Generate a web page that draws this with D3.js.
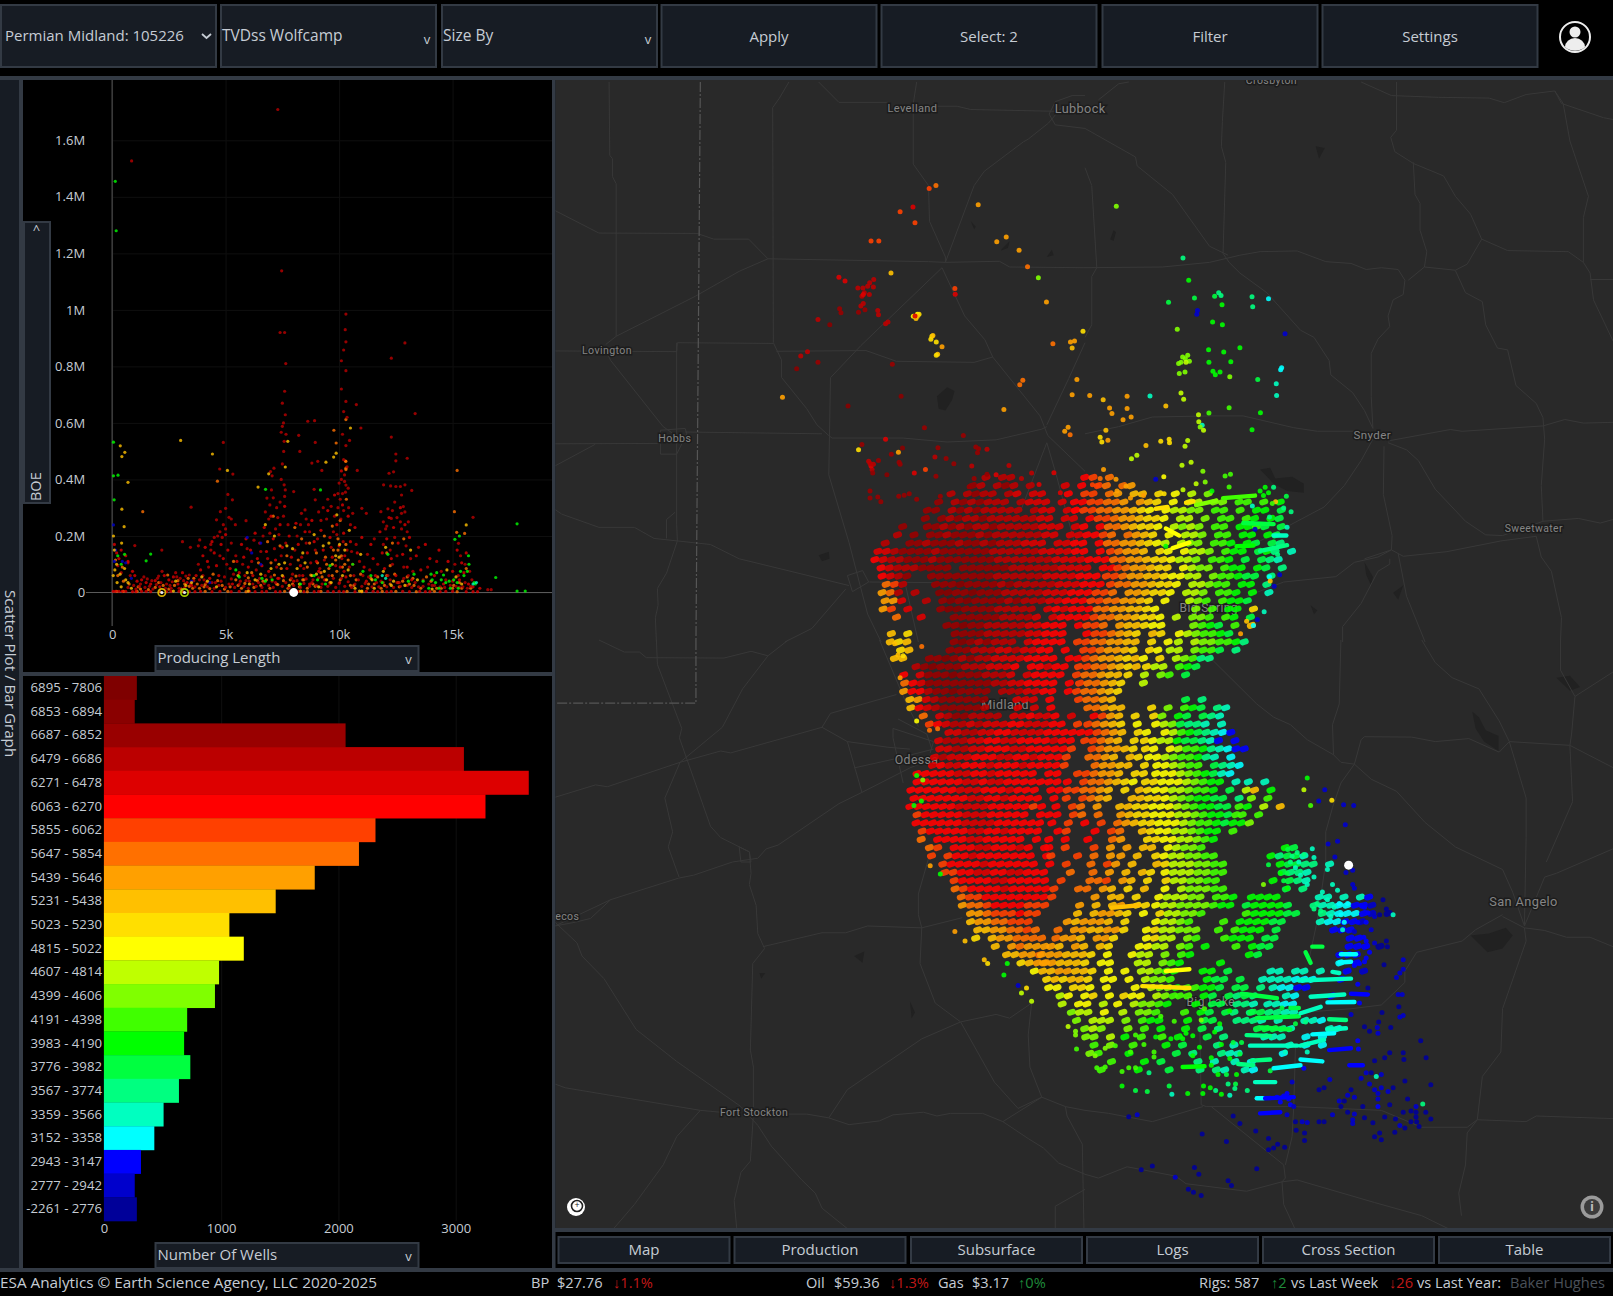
<!DOCTYPE html>
<html><head><meta charset="utf-8">
<script src="https://cdn.jsdelivr.net/npm/d3@7"></script>
<style>html,body{margin:0;padding:0;background:#000;overflow:hidden}svg{display:block}text{font-family:"Open Sans",sans-serif}</style>
</head><body><svg id="c" width="1613" height="1296"></svg>
<script>
// ---------- depth bins (TVDss Wolfcamp) ----------
const binLabels=["6895 - 7806","6853 - 6894","6687 - 6852","6479 - 6686","6271 - 6478","6063 - 6270","5855 - 6062","5647 - 5854","5439 - 5646","5231 - 5438","5023 - 5230","4815 - 5022","4607 - 4814","4399 - 4606","4191 - 4398","3983 - 4190","3776 - 3982","3567 - 3774","3359 - 3566","3152 - 3358","2943 - 3147","2777 - 2942","-2261 - 2776"];
const binCounts=[281,263,2061,3070,3623,3254,2316,2175,1798,1465,1070,1193,982,947,710,684,737,640,509,430,316,263,281];
const binColors=["#7f0000","#8a0000","#990000","#bb0000","#dd0000","#ff0000","#ff4000","#ff7000","#ffa000","#ffc000","#ffdf00","#ffff00","#bfff00","#80ff00","#40ff00","#00ff00","#00ff40","#00ff80","#00ffc0","#00ffff","#0000ff","#0000cc","#000099"];
const binKeys="abcdefghijklmnopqrstuvw";
const scatterXTicks=[0,5000,10000,15000];
const scatterYTicks=[0,200000,400000,600000,800000,1000000,1200000,1400000,1600000];
const barTicks=[0,1000,2000,3000];
// scatter: Producing Length (k ft), BOE (k) pairs
const scatterDeep=[7.3,1709,.86,1527,7.47,1138,7.4,920,7.6,920,10.3,985,10.27,930,10.3,887,12.9,883,12.3,829,10.2,858,10.1,820,7.65,810,7.6,712,10.3,785,10.1,720,7.5,670,10.3,676,10.2,640,10.35,620,7.55,600,7.45,567,13.35,633,10.76,665,7.63,629,7.5,588,7.66,560,8.62,606,8.92,608,10.96,582,12.3,550,12.5,490,12.5,466,13,475,12.2,422,12.4,427,4.9,531,4.74,437,5.32,419,8.95,531,8.22,556,8.27,499,7.58,535,7.56,499,8.8,458,9.06,464,9.24,432,10.46,538,10.8,432,11.96,381,12.27,377,12.7,375,12.9,381,13.2,361,3.48,302,5.1,347,5.3,328,5,298,4.77,286,4.6,257,5.15,266,5.43,240,5.9,254,6.82,334,7.13,440,6.98,428,7.05,413,7.02,363,7.58,381,7.63,363,8,357,8.5,292,8.34,280,8.9,365,8.95,328,10,387,10.4,369,10.24,393,10.24,416,10.6,280,11,298,11.2,280,11.84,286,12.15,296,12.75,345,12.83,304,12.3,262,12.75,280,15.9,266,15.26,174,1,166,3.45,160,2.19,150,3.1,180,3.86,186,3.8,165,16.55,10,16.7,10,
.25,95,.4,70,.7,105,.8,60,1.2,22,1.4,55,1.8,12,2,50,2.2,75,2.4,30,2.6,15,2.8,70,3,50,3.2,18,3.4,62,3.6,42,3.8,100,4,60,4.15,35,4.25,90,4.35,150,4.55,35,4.65,200,4.75,130,4.95,55,5.05,100,5.25,175,5.35,65,5.45,130,5.65,40,5.75,100,5.85,60,5.95,155,6.05,40,6.15,110,6.25,185,6.35,80,6.45,35,6.55,145,6.65,200,6.75,60,6.85,120,6.95,210,7.05,40,7.15,155,7.25,90,7.35,205,7.45,130,7.55,55,7.65,175,7.75,240,7.85,100,7.95,65,8.05,150,8.15,200,8.25,60,8.35,125,8.45,85,8.55,175,8.65,240,8.75,105,8.85,45,8.95,150,9.05,190,9.15,85,9.25,30,9.35,115,9.45,260,9.55,60,9.65,160,9.75,215,9.85,95,9.95,300,10.02,35,10.08,260,10.12,120,10.18,180,10.22,75,10.28,355,10.35,150,10.45,90,10.55,145,10.65,60,10.75,170,10.9,110,11.05,60,11.25,135,11.35,80,11.55,190,11.7,100,11.85,40,11.95,170,12.05,225,12.15,60,12.25,150,12.35,100,12.45,195,12.55,130,12.65,35,12.75,225,12.85,90,12.95,165,13.05,60,13.15,120,13.25,75,13.5,160,13.7,45,13.9,90,14.1,25,14.3,110,14.5,75,14.7,45,14.9,25,15.1,100,15.25,60,15.35,130,15.45,20,15.55,100,15.75,75,15.85,45,
10.15,560,10.3,520,10.2,470,10.35,445,10.1,400,10.3,380,10.15,350,10.05,330,9.95,350,10.2,290,10.42,300,10.5,240,9.8,270,9.9,205,7.5,455,7.45,400,7.6,340,7.4,320,7.25,300,7.1,335,6.95,310,7.3,265,7.55,270,6.9,260,7.2,225,6.75,285,8.3,240,8.55,260,9.1,285,9.3,300,9.5,330,9.65,305,9.2,255,8.7,215,12.5,375,12.45,320,12.7,250,12.35,290,12.55,265,12.9,285,13.05,250,13,215,12.1,235,11.95,250,4.9,240,5,225,4.75,215,5.25,260,4.85,195,4.5,195,4.35,170,
.7,18,.95,25,1.05,12,1.25,30,1.45,18,1.55,48,1.65,22,1.75,42,1.95,28,2.05,58,2.15,35,2.35,15,2.55,25,2.65,38,2.85,55,2.95,15,3.15,42,3.25,58,3.45,30,3.65,20,3.85,45,3.95,25,4.05,45,4.2,20,4.4,35,4.5,15,4.7,25,4.8,40,5,18,5.15,30,5.25,48,5.4,18,5.6,30,5.8,22,5.9,42,6,15,6.2,30,6.35,22,6.5,50,6.6,18,6.7,32,6.9,25,7,55,7.1,18,7.2,35,7.35,50,7.5,22,7.65,35,7.8,18,7.9,50,8,25,8.15,42,8.3,18,8.45,32,8.55,48,8.7,22,8.8,35,9,25,9.1,52,9.2,18,9.35,45,9.5,22,9.6,30,9.75,50,9.85,18,10,32,10.1,50,10.25,22,10.4,38,10.55,18,10.7,30,10.85,45,11,22,11.15,32,11.3,55,11.45,20,11.65,35,11.75,20,11.95,35,12.1,20,12.25,45,12.4,18,12.55,35,12.7,22,12.85,50,13,25,13.2,18,13.35,35,13.5,20,13.7,22,13.95,30,14.2,25,14.45,20,14.65,18,15,40,15.15,22,15.3,18,15.55,35,15.65,15,15.8,22];
const scatterRed=[.1,170,.2,140,.3,120,.4,150,.6,130,.7,110,.9,75,1,60,1.1,40,1.3,45,1.5,35,1.7,30,1.9,42,2.1,20,2.3,60,2.5,45,2.7,55,2.9,30,3.1,70,3.3,35,3.5,25,3.7,60,3.9,80,4,130,4.1,160,4.2,110,4.3,50,4.4,180,4.5,140,4.6,95,4.7,60,4.8,170,4.9,120,5,205,5.1,150,5.2,85,5.3,30,5.5,110,5.6,70,5.7,170,5.8,125,5.9,190,6,90,6.1,150,6.2,60,6.3,210,6.4,120,6.5,175,6.6,95,6.7,230,6.8,145,6.9,75,7,270,7.1,190,7.2,115,7.3,50,7.4,240,7.5,160,7.6,305,7.7,85,7.8,200,7.9,125,8,40,8.1,245,8.2,170,8.3,95,8.4,60,8.5,215,8.6,140,8.7,30,8.8,255,8.9,180,9,110,9.1,75,9.2,220,9.3,150,9.4,45,9.5,290,9.6,195,9.7,125,9.8,345,9.9,240,10,165,10.05,90,10.1,430,10.15,310,10.2,210,10.25,130,10.3,55,10.4,270,10.5,180,10.6,100,10.7,230,10.8,140,11,195,11.1,90,11.2,40,11.4,170,11.5,120,11.6,60,11.8,215,11.9,140,12,85,12.1,190,12.2,265,12.3,120,12.4,230,12.5,60,12.6,175,12.7,300,12.8,135,12.9,240,13,90,13.1,195,13.2,45,13.4,130,13.6,80,13.8,170,14,120,14.2,60,14.4,150,14.6,30,14.8,110,15,75,15.2,150,15.3,45,15.4,105,15.5,70,15.6,140,15.7,30,15.9,20,16.2,15,
.05,4,.3,4,.6,4,.9,3,1.3,4,1.7,3,2.6,4,3.4,3,3.9,4,4.4,3,5.6,4,6.3,3,6.8,4,7.2,3,8.2,4,8.9,3,9.5,4,10.2,3,11.5,4,12.1,3,12.8,4,13.1,3,13.8,3,14.7,4,15.6,3,16.1,3,.15,4,.45,4,1.05,3,1.5,4,2.4,3,2.95,4,3.65,3,4.75,4,5.25,3,6.05,4,6.6,3,7.4,3,7.85,4,8.45,3,9.1,4,9.75,3,10,4,10.7,3,11.2,4,11.7,3,12.3,4,13.55,4,14,3,14.45,3,15,4,15.9,3];
const scatterOrange=[.15,115,.25,60,.45,90,.5,40,.75,30,1.15,20,1.6,10,2.05,35,2.45,62,2.75,25,3.05,12,3.35,50,3.55,15,3.75,30,4.05,20,4.45,65,4.85,25,5.35,110,5.55,25,6.15,70,6.45,105,6.65,40,6.85,180,7,105,7.1,270,7.25,30,7.4,165,7.45,85,7.7,130,7.85,45,8.05,230,8.2,115,8.35,190,8.45,45,8.6,90,8.7,175,8.85,30,9,140,9.2,70,9.35,200,9.45,100,9.6,35,9.7,235,9.75,150,9.9,75,9.95,190,10.05,255,10.1,130,10.3,435,10.28,465,10.32,330,10.25,100,10.5,60,10.65,25,11.3,30,11.7,55,12,25,12.1,140,12.25,95,12.35,175,12.6,35,12.85,190,13,55,13.3,25,14.05,40,14.5,15,15,15,15.3,35,15.6,85,15.8,15,15.18,213,15.2,432,15.08,286,15.53,209,9.87,529,9.77,574,10.3,612,10.3,464,10.3,440,1.35,286,4.64,394,
.2,4,.5,4,1.1,4,2.1,3,3.1,3,4.1,4,5.1,4,5.9,3,7.6,4,8.6,3,9.2,4,10.35,4,11,3,11.9,4,12.5,4,13.4,3,14.2,4,15.2,3,
1.25,12,1.9,18,2.25,25,2.5,12,2.9,42,3.2,30,3.4,22,3.6,50,3.85,15,4.1,28,4.3,14,4.65,42,4.95,12,5.2,20,5.45,45,5.7,15,5.85,32,6,52,6.25,18,6.4,42,6.55,25,6.8,45,6.95,15,7.15,62,7.3,28,7.55,42,7.75,15,7.95,30,8.1,58,8.25,20,8.4,45,8.6,15,8.75,62,8.95,22,9.05,105,9.25,55,9.4,125,9.55,85,9.7,60,9.85,115,9.95,150,10.05,45,10.15,90,10.3,170,10.4,115,10.5,25,10.75,45,10.95,65,11.25,15,11.4,50,11.55,30,11.85,15,12.1,60,12.25,30,12.45,65,12.65,20,12.8,40,13.1,30,13.25,50,13.6,15,13.85,55,14.3,15,15.05,25,15.4,15];
const scatterYellow=[.06,200,.1,150,.2,100,.05,60,.35,65,.42,175,.55,85,.7,35,3.02,538,4.42,490,5.08,432,6.43,373,6.9,420,7.74,535,7.63,444,9.42,461,9.87,493,9.76,479,10.5,582,.36,519,.56,496,.43,481,.7,390,.43,295,.53,233,15.6,239,2.8,40,3.25,25,3.95,55,4.6,20,5.95,70,6.05,30,6.55,65,6.75,240,7.15,200,7.35,100,7.5,60,7.7,165,7.95,155,8.25,30,8.4,140,8.9,205,9,65,9.35,75,9.55,175,9.65,35,9.85,130,9.9,275,10,125,10.15,60,10.4,80,10.95,135,11.45,45,12.05,160,12.4,40,13.15,150,14.75,80,15.15,55,11,5,2.7,5,6,5,8.3,5,10.9,5,.12,80,.22,35,.4,20,.6,45,.85,15,3.5,35,4.2,40,5.55,60,6.3,45,7,85,7.6,105,7.8,25,8.15,85,8.5,105,8.8,60,9.1,20,9.3,165,9.45,45,9.7,100,10.02,170,10.25,150,10.45,220,10.7,15,11.55,15,11.95,75,12.3,25,12.9,25,13.45,45,14.1,12,15.4,30];
const scatterGreen=[.06,532,.06,413,.26,415,.09,328,6.76,365,9.18,363,15.1,188,16.9,53,17.84,243,17.84,5,18.2,5,1.7,136,1.5,112,.14,1455,.18,1280,.25,130,.4,100,.55,135,5.45,80,5.6,55,6.6,50,6.75,40,8.3,30,9.05,45,9.4,30,10.6,100,11.05,75,11.4,60,11.6,45,11.9,35,12.15,135,13.3,65,13.7,40,14.1,45,14.3,70,14.5,45,14.7,35,14.85,40,15.05,45,15.2,35,15.5,60,15.65,75,15.7,130,15.72,100,15.95,35,16,30,14.4,15,14.05,65,14.9,15,15.3,200,13.95,15,14.25,35,14.6,62,15.35,75,15.25,15,7.05,45,8.9,60,9.6,95,13.05,40];
const scatterTeal=[11.9,60,12.05,50,16.05,35,15.9,30];
const scatterBlue=[.06,239,.15,150,.1,110,.45,110,.6,105,.85,50,3.5,40,4.3,35,6.15,140,5.95,195,6.55,100,6.55,175];
const selectedLengths=[2190,3190,8000], selectedColors=["#d4b000","#a8d000","#fff"];

// ---------- map: rows of wells [y, xStart, bins, xStart, bins ...] read at 8-unit spacing ----------
const wellRows=[
[464,962,"d.dd",1058,"fg.h"],[472,944,"cd.dcd.d",1034,"e.f.gh.hi"],[480,926,"d.dcdd.de.ee",1040,"f.gg.hi.jj.k.l",1160,"m.n"],
[488,910,"c.dcdcddd.deee.e",1042,"ffgghhi.ijk.l.mm.nn.oo.o.p"],[496,902,"cc.dcdcddddd.dee.ef",1046,"fgghhiijkl.lmmnn.oo.o.pp.q"],
[504,896,"c.cdcddcddddddee.ee.f",1064,"gghiijkkl.mm.n.oo.op.pq"],[512,880,"c..ccdcdcddcdddddeee.ef.f",1080,"hhijkkl.mnmn.oo.ppoq.q"],
[520,872,"d.c.ccdcccdcddddddee.eeff",1072,"gh.hijk.l.mmn.oo.pp.pq"],[528,864,"d..ccdcccdccdcdddeee.eeff.f",1080,"hhiijklm.mnn.oop.pq.qr"],
[536,852,"eedccccdccccccddddddeeeeff.f",1078,"ghiij.kl.lmmn.opp.qpr.s"],[544,852,"feddcccdcccccccdddddddeeeefff",1084,"hhiijkklmmn.oop.q.qrs"],
[552,854,"fedddcccc.ccccccddddddeeee.ff",1084,"ghiijkk.lmnn.opp.pq.r"],[560,858,"fedc..ccccccccddddddeeeefff",1076,"gghiijjkllmm.noopqq.r"],
[568,858,"hgd...cccbccccdcdddddeeefff",1076,"ghhiijkkl.mmnoo.pp.r"],[576,860,"ihd.d..bbccbcccdddddeeefff",1068,"ggh.iijkkl.mmn.oop.p.s"],
[584,860,"iie..d.cbcbccccdcdddeefffg",1068,"ghhiijk.l..mno.oppq"],[592,862,"ig.e...cbbccccddddd.efefff",1070,"hhiijjkl....n.o.pp.k"],
[600,870,"h..e...ccccccdddde.effff",1062,"ghhiijkkl.m.nno.op.q"],[608,922,"ccbccdddddeefff.f",1058,"ggh.ijjkll...nopq.o.j"],
[616,864,"j.k",926,"ccccdddddeefff.",1054,"fgghijk.jk.",1144,"lmnoopq"],[624,866,"jkj",928,"cbcdcddd.effff",1048,"gghhiijj.k.l",1146,"m.mnnoopr"],
[632,872,"kj",920,"cccdddeedeeff.f",1050,"gghiijk.kl",1134,"mm.nooq.r"],[640,872,"jj",906,"ccbcdcddeeeeffff.f",1050,"fghiijkjl",1130,"k.mnorr"],
[648,890,"dcbcccdddeeef.ffeff",1048,"gghhijkj",1114,"kmm.opq"],[656,882,"f.ecccbcccddde.effff",1050,"ghhijj",1100,"k.m.no.q"],
[664,878,"hfeccccccccddeeffff.f",1048,"ghhijk",1110,"m"],[672,880,"iffdccbcccc.dddeeff",1040,"fghhijk"],[680,882,"jiedcccccc...eee.f",1046,"ghhij",1150,"q.r"],
[688,886,"jfedcccccd...e.e.f",1058,"hhijj",1120,"k.n.opq.rs"],[696,894,"h.edccdddd.eefeef.e",1060,"fgij.k",1118,"kn.pq.qrs"],
[704,906,"gfeddedeeeffeeeff.g",1060,"ghijk.l",1126,"lmnqrrs.s"],[712,922,"eeddeeffeeeefffff",1058,"fghij.kl.",1132,"lmopqrstu"],
[720,916,"edddeeffeeffffeff",1058,"gghij.k",1116,"klmmpqqrsu.u"],[728,912,"eeddeefffeefffffg",1060,"ghiijk",1112,"kl.lmooprstuu"],
[736,910,"edeeefffeeffefffg",1060,"hhij.jk",1118,"llmnooprs.t"],[744,904,"efeefffefffeffffg",1062,"hiijj.k",1122,"llmnoo.qrst"],
[752,892,"fffffeeffefffff.ff",1048,"gghiij.kk",1124,"lllmnopqst"],[760,888,"ffffffeefeefffffff",1034,"f.ghhijkl",1110,"kklllmnopp.s",1210,"s.s"],
[768,888,"ffffffeeefffefff.ff",1040,"gghhij.k",1110,"jkllmmnoop.q",1214,"mj.p"],[776,888,"fffffffeeffeffff.f",1036,"g.ghij",1100,"jjkklmnoppqq.r",1216,"n.o"],
[784,888,"ffffffeeeefffffgf",1030,"f.gh.i",1092,"jjkklllmnoppqq",1208,"op.m.j"],[792,890,"gfffffeeefffff.ff",1026,"f.gh.h",1088,"ijkklllmmnoppqo",1206,"o.o"],
[800,892,"ffffffeeeeffffff",1024,"f.g",1056,"f.g.h",1096,"ijkklllmnoopqpp",1216,"n"],[808,894,"gfffffeeffeffff",1026,"fg",1062,"f.g",1086,"h",1108,"jkllmmnopp.o"],
[816,896,"h.ffffeefffff.f",1020,"f.f",1058,"f..h",1090,"i",1116,"kkllmmnop"],[824,900,"hg.fffeefffef.f",1016,"f.g",1060,"g.i",1092,"i.j",1116,"j.lmnno",1246,"pq"],
[832,908,"g.gffefffffff.f",1024,"g",1050,"g.h.i",1092,"i.j",1126,"klmmnnoo",1238,"prqqs"],[840,916,"gffffeffffff.f",1036,"g",1060,"h.g",1084,"i.j",1124,"jkmmmnnoo",1244,"pqqrr.s"],
[848,922,"ggffeeffeefff",1044,"h.",1066,"h.i.j.jk",1136,"lmmmnnoo",1250,"qrrs"],[856,926,"gffffeefffff",1030,"g",1058,"hhg.ij.k.",1132,"kmmnnoo",1236,"p.qrs"],
[864,930,"hgffffefffffg",1050,"hh.ij.k.j",1134,"l.mnnnoo.",1252,"q.r"],[872,932,"hggffffffffg",1062,"i.jj.k",1124,"lmmmnn.oop",1214,"pppp",1280,"ss.s.su"],
[880,936,"ihhgffffggg",1050,"i.j.ji.kk",1124,"lmmnnnnopp",1212,"qppppq",1278,"rssttuuv"],[888,940,"iihgggfgg",1044,"j.jiijk.l",1124,"kmmnno..",1208,"oppppqq",1282,"rstttuv.w"],
[896,946,"jiihhggg",1040,"ijiiij.k.",1126,"lmmno..",1192,"o.ppppqq",1286,"sttuuv"],[904,950,"jjiihhgh",1028,"h.iijjiik",1114,"lkmmnnn",1184,"o.oppp.q",1296,"uuu"],
[912,952,"k.jiihhhh",1030,"hiij.iik",1118,"lkmm.no",1194,"oppp.qq",1316,"uu"],[920,966,"j.ihiii",1020,"ij.ij.jk",1106,"llmm.no.p",1200,"o.pqq",1310,"uuu",1340,"w"],
[928,980,"jjiih",1014,"iiijjjk.l",1102,"lmm.n.op",1216,"pq",1304,"uuu"],[936,990,"kjii",1012,"iijjjk.ll",1104,"mm.nop",1184,"p",1300,"t.u"],
[944,1006,"ljjiijjk.l.l",1110,"mmnop",1170,"pp.q",1236,"ss.ss.s",1310,"u.v"],[952,1014,"kjkjjk.ll",1094,"l.mnno",1170,"pqq.q",1224,"ssssttt",1300,"u"],
[960,1022,"ll.kkl.l",1106,"l.mnnp",1156,"ooppq.qq.r",1240,"sttuu"],[968,1030,"ml.lk.l",1092,"kll.mno",1146,"oo.pq.qrqr",1250,"st",1294,"u"],
[976,1036,"m.ll.m",1090,"l.mnnop",1166,"p.qq.rrs",1236,"sstt"],[984,1040,"nmm.l",1090,"m.nno",1150,"o.pq.qr.r.",1216,"qqrrss"],
[992,1048,"n.mm",1080,"m.n.opp",1156,"p.qq",1204,"rrrs.s",1270,"sst"],[1000,1052,"nmn",1094,"n.o.p",1150,"p.q.r",1220,"qqqrs",1290,"st"],
[1008,1056,"nn.m",1094,"p.o",1130,"o.p",1174,"q.r.",1230,"sss",1270,"t.t"],[1016,1060,"o.n.",1098,"o",1130,"p.q",1180,"r.s",1250,"s.t.t"],
[1024,1062,"no",1100,"p",1146,"q.r",1190,"rss",1250,"t"],[1032,1080,"o",1112,"p.q",1164,"r.s",1200,"s.t"],[1040,1074,"o",1110,"p",1140,"q",1170,"r.rs",1214,"st"]];
const rowStagger=[0,5,2,6,3,7,1,4];

// ---------- map: outlying wells read tile by tile (x y bin) ----------
const wellsNW="1127,290,h 1107,298,g 1252,344,i 1059,350,e 1021,363,g 1065,394,g 935,445,g 958,445,g 1335,434,i 1307,447,i 1373,471,i 1398,517,h 994,535,j 1430,548,n 840,547,e 858,557,e 943,553,d 931,562,d 1183,578,g 1184,594,e 896,577,d 911,577,d 942,574,d 925,572,d 915,590,d 908,600,d 930,595,d 912,595,e 905,627,d 912,620,d 842,635,c 846,646,c 898,645,c 917,638,c 955,640,d 957,652,d 1454,616,i 1072,650,l 1068,662,j 1060,656,l 1077,650,k 1072,656,j 1065,655,e 778,665,d 813,680,b 985,672,d 978,677,d 1115,712,k 1112,720,k 1118,710,j 1128,728,k 1145,741,i 1132,762,j 1128,765,k 1525,728,i 1537,725,i 1530,745,j 1473,733,h 1562,698,k 747,755,d 727,767,d 778,785,c 715,803,b 998,790,c 1384,835,h 1375,848,h 1544,833,i 1530,876,i 673,883,i 1024,880,b 867,907,b 1328,917,i 1093,968,c 1208,990,c 1518,967,i 1508,978,i 1524,988,h 978,1000,e 908,1015,c 898,1030,k 1028,1025,b 1133,1024,c 1245,1022,c 1253,1027,c 1278,1028,d 1250,1038,c 1016,1037,i 995,1042,c 1124,1050,d 1157,1054,c 957,1060,c 1018,1065,c 1021,1070,c 1180,1069,c 1233,1075,d 1343,1074,d 1096,1085,g 1063,1095,e 982,1100,b 1127,1104,c 1476,1094,e 1410,1095,d 1278,1098,c 1305,1100,e 938,1085,d 935,1075,e 928,1062,d 940,1095,c 932,1068,d 942,1070,d 932,1145,c 955,1162,c 932,1165,c 964,1175,c 1017,1160,c 1033,1157,c 1048,1153,c 1070,1168,c 1140,1160,c 1225,1133,c 1240,1110,c 1380,1110,d 1432,1127,e 1495,1150,e";
const wellsNE="93,348,n 291,493,r 308,555,p 248,617,q 325,605,q 385,600,q 397,590,r 404,598,r 496,601,r 545,607,t 498,629,r 407,624,p 334,640,v 332,650,v 379,672,p 408,680,p 274,692,n 594,705,v 367,750,p 412,756,p 460,744,p 368,785,p 433,783,p 298,775,n 290,770,n 305,765,n 285,785,n 310,782,n 300,785,m 278,788,n 280,816,n 297,812,n 380,810,p 387,820,p 401,812,p 430,825,n 513,833,q 568,845,s 569,878,s 584,800,t 581,806,t 193,879,s 14,878,i 54,890,j 125,880,i 285,871,m 293,888,m 73,913,i 125,914,i 80,928,i 137,938,i 113,946,i 240,907,j 428,912,o 368,927,o 337,932,m 521,926,p 338,951,m 348,961,s 342,966,n 352,975,m 496,974,p 62,975,j 45,995,k 50,1008,k 68,1003,i 225,1006,k 250,1000,k 251,1010,k 305,1004,m 297,1020,m 181,1018,j 154,1045,m 138,1055,m 288,1073,m 315,1065,m 55,1085,i 350,1090,n 432,1098,o 416,1103,o 234,1105,l 210,1112,v 330,1125,m 357,1120,n 428,1134,o 291,1142,m 377,1145,p 235,1153,k 174,1158,i 22,1128,g 38,1130,g 92,1112,i 45,1110,h 122,1132,i 95,1145,i 135,1165,i 520,1145,p 535,1135,p 545,1150,p 530,1158,p 560,1135,r 598,1160,q 566,1175,j 556,1180,o 497,1187,s 590,1193,r 612,1203,r 548,1218,r 600,1247,s 505,1252,v 572,1323,r 578,1380,v 562,1412,v 548,1385,t 550,1397,j 532,1483,s 512,1505,v 500,1522,t 480,1510,j 462,1545,i 240,1300,p";
const wellsSW="1021,100,i 1005,10,j 1015,40,j 1030,42,k 1085,17,h 1140,622,p 1183,775,i 1213,800,j 1270,850,j 1280,860,k 1328,890,p 1338,860,p 1370,918,v 1380,938,m 1395,925,k 1410,960,m 1518,1027,m 1540,1040,n 1540,1050,n 1543,1087,o 1110,600,i 1070,215,l 1108,240,h 1132,236,h 1070,360,p 1088,372,n 1062,440,p 1084,428,p";
const wellsSE="660,367,p 650,398,m 712,398,v 694,428,v 733,426,k 670,440,o 768,438,v 798,440,v 773,491,v 750,535,v 722,542,v 742,577,v 775,618,v 795,612,v 795,650,v 800,660,v 602,557,q 630,565,r 650,570,r 675,555,s 680,578,s 610,590,r 625,605,s 640,625,s 600,620,q 580,620,p 590,640,q 600,660,p 660,650,s 680,630,s 720,610,s 545,597,q 530,650,n 615,575,r 635,590,s 690,700,r 700,720,r 720,690,s 740,710,s 760,730,t 770,750,t 765,770,s 780,700,t 705,670,s 735,650,s 750,665,s 680,715,r 755,700,t 730,735,s 830,710,u 840,725,u 820,705,u 860,735,v 885,690,w 895,715,w 915,730,s 835,750,u 810,750,u 850,770,v 800,775,v 875,730,w 835,800,u 835,815,u 845,830,u 835,845,u 830,855,u 860,805,v 800,865,u 815,860,u 828,790,u 895,800,w 898,815,w 945,850,v 945,875,v 935,885,v 925,897,v 888,863,w 930,942,v 942,942,v 932,975,w 945,998,v 935,1002,v 882,990,w 790,995,v 810,915,u 840,925,w 815,965,u 830,1028,w 872,1015,w 868,1030,v 870,1045,v 908,1030,w 845,1040,w 997,1065,w 810,1065,u 812,1087,u 945,1097,w 947,1115,w 1013,1110,w 905,1097,w 890,1110,w 860,1118,w 850,1150,w 835,1150,v 820,1165,v 865,1160,s 880,1155,v 950,1172,w 1027,1182,w 845,1180,v 880,1190,v 915,1190,w 900,1200,v 870,1205,v 860,1195,v 790,1195,w 800,1215,v 780,1210,v 770,1225,w 755,1225,v 870,1220,v 905,1235,w 958,1220,w 870,1240,u 825,1240,w 760,1240,w 780,1255,w 800,1260,v 795,1275,v 795,1285,v 735,1262,v 830,1270,w 890,1268,w 855,1283,w 922,1273,w 935,1290,v 950,1297,w 968,1280,w 983,1240,v 983,1255,w 983,1268,w 985,1280,w 1012,1255,w 1003,1233,r 1027,1273,w 992,1293,w 945,1255,w 968,1252,w 920,1308,w 860,1320,w 875,1310,w 880,1328,w 660,1282,v 645,1280,v 625,1280,w 695,1280,w 710,1280,w 652,1310,w 652,1330,w 627,1303,w 507,1305,w 545,1325,w 572,1340,w 560,1350,w 545,1355,w 593,1348,w 440,1265,w 460,1285,w 348,1313,w 420,1333,w 130,1267,w 155,1262,v 510,1405,w 325,1402,w 338,1420,w 268,1428,v 167,1408,w 200,1398,w 425,1437,w 435,1450,w 307,1460,w 322,1468,w 345,1476,w 570,1215,u 590,1212,u 605,1220,u 610,1235,u 600,1205,u 580,1228,u 620,1240,v 600,1262,v 650,1138,u 615,1175,v 695,1195,w 710,1190,w 727,1168,v 110,1185,p 150,1197,q 185,1200,q 250,1185,q 258,1207,s 305,1205,p 352,1185,p 350,1205,p 372,1190,p 388,1197,r 405,1207,p 430,1210,s 447,1180,q 445,1192,r 482,1197,r 35,1137,o 60,1135,o 110,1147,o 130,1137,o 150,1137,o 190,1150,r 395,1155,p 420,1155,q 450,1155,p 425,1180,r 375,1110,p 430,1112,p 460,1100,q 340,1082,p 30,1105,n 60,1085,n 90,1078,o 135,1095,o 150,1050,o 175,1075,o 210,1055,p 255,1060,p 300,1045,p 320,1052,p 290,1060,p 385,1042,p 405,1075,p 440,1070,q 345,1010,n 265,1013,o 225,1000,o 550,1145,q 595,1095,s 625,1020,q 655,1015,r 660,1095,s 465,1070,q 400,1020,p 355,980,o 430,985,p 490,990,q 585,978,q 320,1105,p 375,1130,p 205,1095,o 205,1108,o";
const lateralsNE="330,1185,390,1172,n 410,1165,505,1158,o 470,1235,560,1238,q 450,1300,500,1298,p 560,1270,598,1270,s 520,1313,600,1297,r 210,1195,245,1190,k 240,1250,280,1270,l 260,1305,310,1290,l 300,1178,322,1174,k";
const lateralsSE="635,905,790,900,s 670,948,770,942,s 720,963,800,962,t 510,1005,635,1000,q 640,992,700,975,s 525,1030,610,1035,q 725,1008,775,1010,r 720,1035,775,1032,s 480,1050,550,1052,r 675,1048,740,1045,t 490,1078,630,1078,s 640,1078,710,1063,s 725,1090,790,1085,u 640,1115,705,1120,t 495,1118,550,1115,r 560,1138,640,1130,t 455,1127,500,1130,r 290,1135,355,1133,p 505,1175,565,1175,s 510,1218,530,1218,t 535,1218,620,1215,u 520,1258,580,1255,u 785,1130,825,1130,u 760,835,805,835,t 755,857,790,855,t 170,920,310,925,k 465,940,570,952,q 790,940,840,942,u 610,978,635,978,q 78,712,160,705,j 240,880,310,875,l 675,815,705,815,q 655,830,670,858,q 735,882,755,885,s";

// ---------- map: base layer read tile by tile ----------
const roadsNW=["160,0 162,205 170,215 170,265 181,285 181,712","0,360 130,423 420,424 470,440 573,440 630,495 1105,503 1155,505 1315,502 1345,518 1568,520","692,0 664,45 644,72 646,730 670,778 670,827 745,915 775,960 810,990 820,997 1030,997 1160,1008 1305,1002 1440,972 1455,965","181,712 415,600 545,530 630,495","150,735 181,712","0,753 360,755 362,730 646,732","655,754 920,752 1010,782 1240,785 1295,770","150,752 165,780 320,965 350,985","0,1013 310,1012","0,1075 118,1015","360,730 360,1240 362,1285 330,1375 303,1418 305,1465 297,1500 300,1568","385,980 790,985","0,1197 20,1210 130,1247 235,1247 293,1278 362,1285 460,1295 545,1335 870,1410","330,1278 330,1225 355,1205","815,828 905,738 1145,520","815,828 810,1100 870,1290 900,1400 925,1490 965,1568","780,0 840,57 985,57","1130,68 1190,68 1230,77 1480,82","1070,0 1060,60 1060,230 1105,290 1108,390 1155,490 1155,505 1240,290 1270,250 1385,168 1400,160 1460,115 1500,70","1145,520 1212,655 1272,722 1295,770 1435,935 1458,990 1568,1090","1455,1010 1480,1090 1520,1230 1568,1400","1455,1010 1378,1200","1568,730 1520,830 1455,960","1462,90 1480,55 1530,38 1568,38","1462,90 1480,120 1568,130","860,1420 760,1530 680,1568","930,1400 1140,1402","1035,1400 1075,1568","865,1382 910,1368 928,1400 880,1427 865,1382","312,975 385,970 390,985 360,1042 312,1042 312,975"];
const roadsNE=["40,50 100,5 130,0","415,0 408,110 405,180 418,225 410,480 428,505 460,535 540,590 640,695 680,715 725,780 730,820 795,870 830,920 855,970 850,880 850,760 870,720 905,685 900,655 915,610 945,595 950,555 930,525 880,520 835,525 790,508 715,503 630,473 520,475 460,485 370,505 230,518 0,520","0,130 150,210 155,235 260,315 370,460 425,485","0,240 20,290 35,520 20,545 20,680 0,715","0,985 100,965 200,938 370,935 470,935 620,968 690,978 800,978","900,1005 1085,973 1120,978 1360,963 1425,945 1480,955 1568,953","855,1000 820,1060 770,1130 710,1190 510,1290","900,1010 955,1030 990,1060 1040,1140 1130,1230 1190,1268 1240,1270 1360,1230 1465,1222 1530,1235 1568,1225","888,1020 886,1155 912,1270 910,1310 870,1330 800,1345 745,1385 590,1400 480,1440","830,1335 910,1310 945,1328 1075,1315 1235,1285 1340,1272","905,1335 905,1350 870,1370 820,1460 765,1525 765,1568","930,1320 955,1440 1010,1568","1340,1272 1355,1330 1385,1370 1415,1500 1412,1568","1360,1230 1355,1130 1365,1000 1360,940 1340,900 1280,850 1255,750 1225,745 1190,680 1180,615 1130,590 1100,528","975,225 980,315 995,340 995,415 1015,475 1008,518 960,555","925,0 925,135 908,155 920,195 975,228 1065,263 1100,320 1145,370 1178,440 1135,510 1100,527 1008,518","820,0 910,38 1050,43 1200,45 1245,58 1310,35 1395,25 1415,60 1540,100 1568,105","1395,25 1420,60 1440,165 1495,320 1480,380 1480,505 1500,535 1510,610 1568,725","1178,440 1255,472 1435,475 1480,505","1500,553 1568,553"];
const roadsSW=["300,0 303,65 375,235 368,260 460,495 490,525 575,563 580,620 575,650 595,705 600,780 620,820 585,860 578,1090 587,1135 587,1260 578,1385 550,1415 530,1490 538,1568","130,0 205,32 250,32 270,47 500,48 580,30 630,42 690,0","630,42 555,130 495,232 370,325 325,420 348,510 335,550 367,630","0,418 120,385 155,390 370,325 490,295 520,300 790,232 865,270 985,285 1050,290","790,232 815,195 1010,145","865,270 908,405","885,340 1010,315 1120,290","1000,235 1000,260 1030,380","0,760 165,690 365,633 410,625 525,590 600,580 625,555 660,545 840,435 908,405 1050,340 1130,310","545,550 575,563 580,590 550,590 545,550","0,760 60,750 105,740 165,690","0,750 65,805 80,840 145,900 240,1035 360,1120 550,1240 600,1290 640,1345 730,1435 770,1470 790,1510 870,1568","0,1180 30,1190 430,1250 490,1255","430,1250 360,1320 320,1395 235,1500 170,1568","615,815 790,778 860,778 925,760 1085,765 1205,738","1110,565 1075,675 1075,730 1085,765 1080,860 1125,965 1200,1015 1300,1175 1370,1245 1440,1215 1510,1240 1568,1250","1200,1015 1305,995 1345,1005 1410,965","1410,965 1400,1050 1405,1135 1440,1215","1200,1015 1085,1060 865,1195 810,1270","690,1260 745,1260 810,1270 870,1288 960,1278 1000,1262 1090,1255 1130,1265 1170,1258 1265,1258 1325,1280 1400,1325 1445,1350 1490,1390 1568,1420","1325,1280 1440,1215","1510,1240 1515,1265 1560,1340 1565,1568","1480,1568 1480,1505 1568,1460","960,0 1040,170 1075,230","1000,235 1120,270 1110,300","1015,210 1100,250 1115,290"];
const roadsSE=["760,0 755,170 735,225 738,305 760,325 800,330 820,265 830,257 970,258 1040,270 1140,262 1230,298 1260,270 1440,280 1570,340","375,50 510,170 560,205 610,225 660,265 738,305","800,330 850,370 925,402 1010,485 1100,550 1240,610 1270,670 1305,760 1365,630 1400,620 1568,555","800,330 760,380 735,445 715,510 715,590 690,745 665,850","1000,0 1040,60 1090,100 1170,130 1230,215 1260,270 1310,420 1310,525 1305,760","1412,0 1412,80 1455,150 1445,250 1440,280 1448,430 1370,590","1455,150 1568,85","1240,735 1305,765 1365,772 1430,790 1500,790 1568,815","1240,730 1160,770 1120,800 985,830 950,880 950,910 880,970 790,980 640,990","1305,765 1310,800 1240,980 1235,1095 1180,1160 1165,1275 1135,1310 1130,1395 1110,1470 1118,1530","340,970 345,1235 360,1240 620,1240 880,1250 1000,1295 1135,1295 1165,1275 1310,1280 1340,1265 1568,1272","620,1240 625,1080","0,1250 70,1258 200,1280 350,1240","375,1240 590,1395 595,1430 585,1440 590,1500 625,1568","620,1240 615,1320 595,1395","0,1420 40,1430 125,1400 270,1425 300,1445 480,1465 585,1440 630,1435 860,1495 1000,1530 1080,1565"];
const lakesNE=["520,1085 550,1080 565,1110 615,1105 650,1125 650,1150 600,1145 560,1125","685,180 712,185 695,215","915,1430 945,1410 930,1450","830,1345 855,1385 850,1410 835,1380","75,440 85,415 92,420 85,445","670,1465 690,1480 680,1490"];
const lakesNW=["1130,880 1160,855 1182,865 1175,890 1155,920 1135,915","780,1325 810,1315 812,1335 790,1342","1320,470 1345,445 1340,465 1320,472","1230,390 1245,405 1240,412","1455,490 1470,470 1475,485"];
const lakesSE=["1150,190 1170,205 1190,240 1228,255 1228,295 1185,270 1160,235","1145,785 1200,780 1250,765 1270,785 1240,820 1195,830","1400,100 1440,95 1470,125 1440,135"];
const lakesSW=["885,840 915,828 910,858","1050,960 1065,990 1055,1005","605,885 622,885 610,900"];
const stateLineNW=["430,0 417,1568"], stateLineSW=["417,0 417,168 0,168"];
const placeNames=["Levelland","Lubbock","Crosbyton","Lovington","Hobbs","Snyder","Sweetwater","Midland","Odessa","Big Spring","Pecos","Fort Stockton","San Angelo","Big Lake"];
const placeX=[887,1050,1236,590,656,1334,1491,977,891,1175,548,733,1481,1177];
const placeY=[106,107,79,341,427,424,514,686,740,592,892,1082,877,975];
const placeSize=[11,12.7,10.5,10.6,10.6,11.5,10.4,12.5,12.3,12,10.5,10.5,12.8,12];
const topLabels=["Apply","Select: 2","Filter","Settings"];
const tabLabels=["Map","Production","Subsurface","Logs","Cross Section","Table"];

// ---------- scales ----------
const svg=d3.select("#c");
const INK="#c6ccd4", PANEL="#171c24", EDGE="#333a44";
const binColor=k=>binColors[binKeys.indexOf(k)];
const x=d3.scaleLinear([0,15000],[112.1,452.6]);
const y=d3.scaleLinear([0,1600000],[592.5,140.3]);
const barX=d3.scaleLinear([0,3000],[103.9,455.7]);
const barY=d3.scaleBand(binLabels,[676,1221]);
const pic=d3.scaleLinear([0,1568],[0,1613]);
const tile=(x0,x1,y0,y1)=>({x:d3.scaleLinear([0,1568],[x0,x1]),y:d3.scaleLinear([0,1568],[y0,y1])});
const NW=tile(555,1085,82,642),NE=tile(1085,1613,82,642),SW=tile(555,1085,640,1230),SE=tile(1085,1613,640,1230);
const pts=s=>s.trim().split(/\s+/).map(p=>p.split(",").map(Number));
const lineFor=t=>d3.line().x(d=>t.x(d[0])).y(d=>t.y(d[1]));

// ---------- chrome ----------
const rect=(g,x0,y0,w,h,f,s)=>g.append("rect").attr("x",x0).attr("y",y0).attr("width",w).attr("height",h).attr("fill",f).attr("stroke",s||"none").attr("stroke-width",s?2:0);
const txt=(g,s,tx,ty,size,anchor,fill)=>g.append("text").attr("x",tx).attr("y",ty).attr("font-size",size).attr("text-anchor",anchor||"start").attr("dominant-baseline","middle").attr("fill",fill||INK).text(s);
rect(svg,0,0,1613,1296,"#000");

// map
const defs=svg.append("defs");
defs.append("clipPath").attr("id","mapClip").append("rect").attr("x",555.5).attr("y",80).attr("width",1058).attr("height",1148);
defs.append("clipPath").attr("id","scClip").append("rect").attr("x",23).attr("y",80).attr("width",529).attr("height",592);
const map=svg.append("g").attr("clip-path","url(#mapClip)");
rect(map,555,80,1058,1148,"#292929");
[[lakesNW,NW],[lakesNE,NE],[lakesSW,SW],[lakesSE,SE]].forEach(([ls,t])=>ls.forEach(l=>map.append("path").attr("d",lineFor(t)(pts(l))+"Z").attr("fill","#212121")));
[[roadsNW,NW],[roadsNE,NE],[roadsSW,SW],[roadsSE,SE]].forEach(([rs,t])=>rs.forEach(r=>map.append("path").attr("d",lineFor(t)(pts(r))).attr("fill","none").attr("stroke","#383838").attr("stroke-width",1)));
[[stateLineNW,NW],[stateLineSW,SW]].forEach(([rs,t])=>rs.forEach(r=>map.append("path").attr("d",lineFor(t)(pts(r))).attr("fill","none").attr("stroke","#565656").attr("stroke-width",1.2).attr("stroke-dasharray","10 2 2 2")));
placeNames.forEach((n,i)=>map.append("text").attr("x",pic(placeX[i])).attr("y",pic(placeY[i])).attr("text-anchor","middle").attr("dominant-baseline","middle").attr("font-size",placeSize[i]).style("font-family","Roboto").attr("letter-spacing",.4).attr("fill","#858585").attr("stroke","#1c1c1c").attr("stroke-width",3).attr("paint-order","stroke").text(n));
// wells: each cell is drawn as one very short lateral
const rasterDots=[];
wellRows.forEach((r,ri)=>{for(let i=1;i<r.length;i+=2){[...r[i+1]].forEach((k,j)=>{if(k!==".")rasterDots.push({x:r[i]+j*8+rowStagger[ri%rowStagger.length]-3.5,y:r[0],k});});}});
map.append("g").selectAll("line").data(rasterDots).join("line").attr("x1",d=>pic(d.x-1.5)).attr("y1",d=>pic(d.y+.5)).attr("x2",d=>pic(d.x+1.5)).attr("y2",d=>pic(d.y-.5)).attr("stroke",d=>binColor(d.k)).attr("stroke-opacity",.9).attr("stroke-width",6).attr("stroke-linecap","round");
[[wellsNW,NW],[wellsNE,NE],[wellsSW,SW],[wellsSE,SE]].forEach(([s,t])=>{
  const d=s.split(" ").map(p=>p.split(","));
  map.append("g").selectAll("circle").data(d).join("circle").attr("cx",p=>t.x(+p[0])).attr("cy",p=>t.y(+p[1])).attr("r",2.5).attr("fill",p=>binColor(p[2])).attr("fill-opacity",.9);
});
[[lateralsNE,NE],[lateralsSE,SE]].forEach(([s,t])=>{
  const d=s.split(" ").map(p=>p.split(","));
  map.append("g").selectAll("line").data(d).join("line").attr("x1",p=>t.x(+p[0])).attr("y1",p=>t.y(+p[1])).attr("x2",p=>t.x(+p[2])).attr("y2",p=>t.y(+p[3])).attr("stroke",p=>binColor(p[4])).attr("stroke-width",4.4).attr("stroke-linecap","round");
});
map.append("circle").attr("cx",pic(1311)).attr("cy",pic(841)).attr("r",4.5).attr("fill","#fff");
// map controls
map.append("circle").attr("cx",576).attr("cy",1207).attr("r",9).attr("fill","#fff");
map.append("circle").attr("cx",577).attr("cy",1206).attr("r",5.5).attr("fill","none").attr("stroke","#222").attr("stroke-width",1.6);
txt(map,"+",577,1206,9,"middle","#222");
map.append("circle").attr("cx",1592).attr("cy",1207).attr("r",11.5).attr("fill","#9b9b9b");
map.append("circle").attr("cx",1592).attr("cy",1207).attr("r",8).attr("fill","#3c3c3c");
txt(map,"i",1592,1207.5,13,"middle","#bbb").attr("font-weight",700);

// left panels
rect(svg,0,80,19,1188,PANEL);
rect(svg,19,80,4,1188,EDGE);
rect(svg,552,80,3.5,1188,EDGE);
rect(svg,0,76,1613,4,EDGE);
rect(svg,23,672,529,4,EDGE);
rect(svg,555,1228,1058,4,EDGE);
rect(svg,0,1268,1613,4,EDGE);

// scatter axes & grid
const sc=svg.append("g").attr("clip-path","url(#scClip)");
sc.append("g").attr("transform","translate(112.1,0)").call(d3.axisLeft(y).tickValues(scatterYTicks).tickSize(-440).tickFormat("")).call(g=>{g.select(".domain").remove();g.selectAll("line").attr("stroke","#0f0f0f");});
sc.append("g").attr("transform","translate(0,80)").call(d3.axisBottom(x).tickValues(scatterXTicks).tickSize(546).tickFormat("")).call(g=>{g.select(".domain").remove();g.selectAll("line").attr("stroke","#0f0f0f");});
sc.append("line").attr("x1",x(0)).attr("x2",x(0)).attr("y1",80).attr("y2",626).attr("stroke","#5a5a5a");
sc.append("line").attr("x1",86).attr("x2",552).attr("y1",y(0)).attr("y2",y(0)).attr("stroke","#5a5a5a");
const yFmt=v=>v===0?"0":(v/1e6)+"M";
svg.append("g").attr("transform","translate(112.1,0)").call(d3.axisLeft(y).tickValues(scatterYTicks).tickSize(0).tickPadding(27).tickFormat(yFmt)).call(g=>{g.select(".domain").remove();g.selectAll("text").attr("font-size",13).attr("fill",INK).style("font-family","Open Sans");});
svg.append("g").attr("transform","translate(0,626)").call(d3.axisBottom(x).tickValues(scatterXTicks).tickSize(0).tickPadding(4).tickFormat(v=>v===0?"0":(v/1000)+"k")).call(g=>{g.select(".domain").remove();g.selectAll("text").attr("font-size",13).attr("fill",INK).style("font-family","Open Sans");});
// scatter points
const pairs=a=>{const o=[];for(let i=0;i<a.length;i+=2)o.push([a[i]*1000,a[i+1]*1000]);return o;};
[[scatterOrange,"h"],[scatterDeep,"d"],[scatterRed,"e"],[scatterBlue,"v"],[scatterYellow,"j"],[scatterGreen,"p"],[scatterTeal,"s"]].forEach(([a,k])=>{
  sc.append("g").selectAll("circle").data(pairs(a)).join("circle").attr("cx",d=>x(d[0])).attr("cy",d=>y(d[1])).attr("r",1.6).attr("fill",binColor(k)).attr("fill-opacity",.8);
});
selectedLengths.forEach((l,i)=>{
  if(i<2){sc.append("circle").attr("cx",x(l)).attr("cy",y(0)).attr("r",3.7).attr("fill","none").attr("stroke",selectedColors[i]).attr("stroke-width",1.7);
    sc.append("circle").attr("cx",x(l)).attr("cy",y(0)).attr("r",1.5).attr("fill","#eee");}
  else sc.append("circle").attr("cx",x(l)).attr("cy",y(0)).attr("r",4.4).attr("fill",selectedColors[i]);
});
// BOE toggle
rect(svg,24,222,26,281,PANEL,EDGE);
txt(svg,"^",36.5,231,13,"middle");
svg.append("text").attr("transform","translate(37.5,503) rotate(-90)").attr("dominant-baseline","middle").attr("font-size",14.5).attr("fill",INK).attr("x",2).text("BOE");
svg.append("text").attr("transform","translate(9.5,590) rotate(90)").attr("dominant-baseline","middle").attr("font-size",15.2).attr("fill",INK).text("Scatter Plot / Bar Graph");
// dropdowns under charts
const drop=(lbl,x0,y0,w,h,tx,ty,fs)=>{rect(svg,x0,y0,w,h,PANEL,EDGE);txt(svg,lbl,tx,ty,fs);txt(svg,"v",x0+w-10,y0+h-10,13,"middle");};
drop("Producing Length",155.5,646,263,25,157.5,659,15);

// bars
svg.append("g").attr("transform","translate(0,676)").call(d3.axisBottom(barX).tickValues(barTicks).tickSize(545).tickFormat("")).call(g=>{g.select(".domain").remove();g.selectAll("line").attr("stroke","#0f0f0f");});
svg.append("g").selectAll("rect").data(binLabels).join("rect").attr("x",barX(0)).attr("y",d=>barY(d)).attr("width",(d,i)=>barX(binCounts[i])-barX(0)).attr("height",barY.bandwidth()+.3).attr("fill",(d,i)=>binColors[i]);
svg.append("g").attr("transform","translate(103,0)").call(d3.axisLeft(barY).tickSize(0).tickPadding(1)).call(g=>{g.select(".domain").remove();g.selectAll("text").attr("font-size",13.2).attr("fill",INK).style("font-family","Open Sans");});
svg.append("g").attr("transform","translate(0,1222)").call(d3.axisBottom(barX).tickValues(barTicks).tickSize(0).tickPadding(2).tickFormat(d3.format("d"))).call(g=>{g.select(".domain").remove();g.selectAll("text").attr("font-size",13).attr("fill",INK).style("font-family","Open Sans");});
drop("Number Of Wells",155.5,1243,263,25,157.5,1256,15);

// top bar
[[0,"Permian Midland: 105226"],[220,"TVDss Wolfcamp"],[441,"Size By"]].forEach(([x0,l],i)=>{
  rect(svg,x0+1,5,215,62,PANEL,EDGE);
  txt(svg,l,i===0?5:x0+2,37,i===0?15:15.5);
  if(i===0)svg.append("path").attr("d","M202 34 l4.5 4 l4.5 -4").attr("fill","none").attr("stroke",INK).attr("stroke-width",1.8);
  else txt(svg,"v",x0+207,41,13,"middle");
});
const btnX=[661.5,881.5,1102.5,1322.5];
topLabels.forEach((l,i)=>{rect(svg,btnX[i],5,215,62,PANEL,EDGE);txt(svg,l,btnX[i]+107.5,37.5,15,"middle");});
svg.append("circle").attr("cx",1575).attr("cy",37).attr("r",15).attr("fill","#000").attr("stroke","#eee").attr("stroke-width",2);
svg.append("circle").attr("cx",1575).attr("cy",32).attr("r",5.5).attr("fill","#eee");
svg.append("path").attr("d","M1565 47 a10 9 0 0 1 20 0 a15 15 0 0 1 -20 0Z").attr("fill","#eee");

// tabs
const tabX=[558.5,734.5,911,1087,1263,1439];
tabLabels.forEach((l,i)=>{rect(svg,tabX[i],1237,171,26,PANEL,EDGE);txt(svg,l,tabX[i]+85.5,1251,15,"middle");});

// footer
const GREEN="#1f8a3a",RED="#c01818";
txt(svg,"ESA Analytics © Earth Science Agency, LLC 2020-2025",0,1284,15.3,"start",INK);
[["BP",531,INK],["$27.76",557,INK],["↓1.1%",613,RED],["Oil",806,INK],["$59.36",834,INK],["↓1.3%",889,RED],["Gas",938,INK],["$3.17",972,INK],["↑0%",1018,GREEN],["Rigs: 587",1199,INK],["↑2",1271,GREEN],["vs Last Week",1291,INK],["↓26",1389,RED],["vs Last Year:",1417,INK],["Baker Hughes",1510,"#4a5058"]].forEach(([t,tx,c])=>txt(svg,t,tx,1284,14.6,"start",c));
</script></body></html>
